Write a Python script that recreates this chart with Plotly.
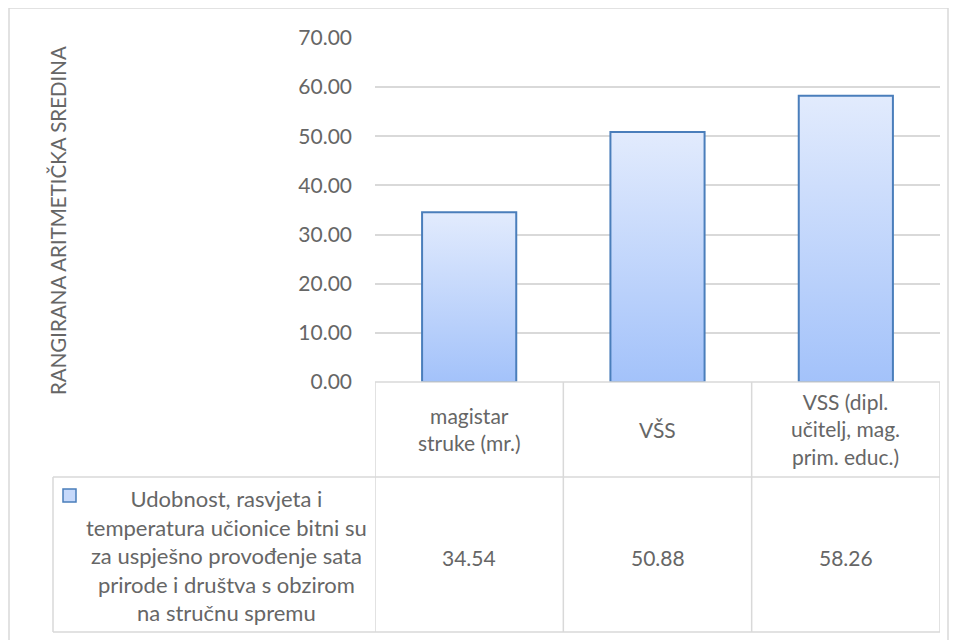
import plotly.graph_objects as go

categories = ["magistar<br>struke (mr.)", "VŠS", "VSS (dipl.<br>učitelj, mag.<br>prim. educ.)"]
values = [34.54, 50.88, 58.26]
value_labels = ["34.54", "50.88", "58.26"]
series_name = ("Udobnost, rasvjeta i<br>temperatura učionice bitni su<br>za uspješno provođenje sata<br>"
               "prirode i društva s obzirom<br>na stručnu spremu")
y_title = "RANGIRANA ARITMETIČKA SREDINA"
y_ticks = [0, 10, 20, 30, 40, 50, 60, 70]

W, H = 960, 640
OFF = 8  # page body margin
ML, MR, MT, MB = 375 - OFF, 960 - 940 + OFF, 38 - OFF, 640 - 382 + OFF
PW, PH = W - ML - MR, H - MT - MB
FONT = "Lato, Liberation Sans, sans-serif"
TXT = "#666666"
GRID = "#d9d9d9"


def px(xp):
    return (xp - OFF - ML) / PW


def py(yp):
    return (H - MB - (yp - OFF)) / PH


fig = go.Figure()
bw = 0.5
for i, v in enumerate(values):
    fig.add_trace(go.Scatter(
        x=[i - bw / 2, i + bw / 2, i + bw / 2, i - bw / 2, i - bw / 2],
        y=[0, 0, v, v, 0],
        mode="lines", fill="toself",
        fillgradient=dict(type="vertical", colorscale=[[0, "#a3c2fa"], [1, "#e2ebfd"]]),
        line=dict(color="#4a7ebb", width=2),
        showlegend=False, hoverinfo="skip",
    ))

shapes = []
line = dict(color=GRID, width=1.5)
# outer chart border
shapes.append(dict(type="rect", xref="paper", yref="paper", x0=px(9), x1=px(948), y0=py(8), y1=py(660),
                   line=dict(color="#d9d9d9", width=1.5), layer="below"))
# table horizontal lines
shapes.append(dict(type="line", xref="x", yref="paper", x0=-0.5, x1=2.5, y0=py(382), y1=py(382), line=line))
shapes.append(dict(type="line", xref="paper", yref="paper", x0=px(53), x1=1, y0=py(477), y1=py(477), line=line))
shapes.append(dict(type="line", xref="paper", yref="paper", x0=px(53), x1=1, y0=py(632), y1=py(632), line=line))
# table vertical lines
for xb in [-0.5, 0.5, 1.5, 2.5]:
    shapes.append(dict(type="line", xref="x", yref="paper", x0=xb, x1=xb, y0=py(382), y1=py(632), line=line))
shapes.append(dict(type="line", xref="paper", yref="paper", x0=px(53), x1=px(53), y0=py(477), y1=py(632), line=line))
# legend marker
shapes.append(dict(type="rect", xref="paper", yref="paper", x0=px(63), x1=px(76), y0=py(489), y1=py(502),
                   fillcolor="#c6d9fb", line=dict(color="#4a7ebb", width=1.5)))

annotations = []
for i, c in enumerate(categories):
    annotations.append(dict(x=i, y=py(429), xref="x", yref="paper", text=c, showarrow=False,
                            font=dict(family=FONT, size=21, color=TXT), align="center",
                            xanchor="center", yanchor="middle"))
    annotations.append(dict(x=i, y=py(557), xref="x", yref="paper", text=value_labels[i], showarrow=False,
                            font=dict(family=FONT, size=21, color=TXT), xanchor="center", yanchor="middle"))
annotations.append(dict(x=px(226), y=py(555), xref="paper", yref="paper", text=series_name, showarrow=False,
                        font=dict(family=FONT, size=22, color=TXT), align="center",
                        xanchor="center", yanchor="middle"))
annotations.append(dict(x=px(58), y=py(221), xref="paper", yref="paper", text=y_title, showarrow=False,
                        textangle=-90, font=dict(family=FONT, size=20.5, color=TXT),
                        xanchor="center", yanchor="middle"))

fig.update_layout(
    width=W, height=H,
    margin=dict(l=ML, r=MR, t=MT, b=MB),
    paper_bgcolor="white", plot_bgcolor="white",
    xaxis=dict(range=[-0.5, 2.5], showgrid=False, zeroline=False, showticklabels=False, fixedrange=True),
    yaxis=dict(range=[0, 70], tickvals=y_ticks, ticktext=[f"{t:.2f}" for t in y_ticks],
               showgrid=True, gridcolor=GRID, gridwidth=1.5, zeroline=False,
               tickfont=dict(family=FONT, size=21, color=TXT), ticklabelstandoff=22),
    shapes=shapes, annotations=annotations,
    showlegend=False,
)

fig.write_html("out.html")
